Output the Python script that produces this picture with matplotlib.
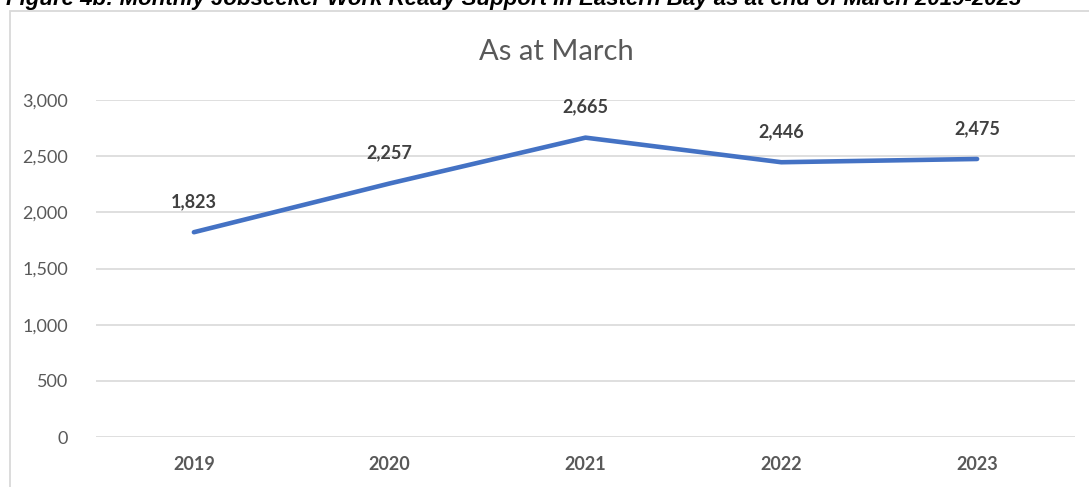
import matplotlib.pyplot as plt
from matplotlib.patches import Rectangle

years = ['2019', '2020', '2021', '2022', '2023']
values = [1823, 2257, 2665, 2446, 2475]
y_ticks = [0, 500, 1000, 1500, 2000, 2500, 3000]

W, H = 1089, 487
fig = plt.figure(figsize=(W / 100, H / 100), dpi=100)
plt.rcParams['font.family'] = ['Lato', 'DejaVu Sans']

# chart frame (extends past the bottom/right edge)
fig.patches.append(Rectangle((10 / W, -0.1), 1.2, 1 - 11 / H + 0.1, transform=fig.transFigure,
                             fill=False, edgecolor='#d9d9d9', linewidth=1.3))

# figure caption, clipped at the top
fig.text(6 / W, 1 - 5 / H, 'Figure 4b: Monthly Jobseeker Work Ready Support in Eastern Bay as at end of March 2019-2023',
         family='Liberation Sans', fontweight='bold', style='italic', fontsize=16, va='baseline', ha='left')

ax = fig.add_axes([96 / W, 1 - 437 / H, (1075 - 96) / W, (437 - 100) / H])
x = list(range(len(years)))
ax.plot(x, values, color='#4472C4', linewidth=3.3, solid_capstyle='round')
for xi, v in zip(x, values):
    ax.annotate(f'{v:,}', (xi, v), xytext=(0, 22), textcoords='offset points', ha='center', va='center',
                fontsize=13, fontweight='bold', color='#404040')

ax.set_xlim(-0.5, len(years) - 0.5)
ax.set_ylim(0, 3000)
ax.set_xticks(x)
ax.set_xticklabels(years, fontweight='bold', fontsize=13, color='#595959')
ax.set_yticks(y_ticks)
ax.set_yticklabels([f'{t:,}' for t in y_ticks], fontsize=13, color='#595959')
ax.tick_params(length=0, pad=14)
ax.tick_params(axis='y', pad=20)
ax.grid(axis='y', color='#d9d9d9', linewidth=1.2)
ax.set_axisbelow(True)
for s in ax.spines.values():
    s.set_visible(False)

fig.text(556 / W, 1 - 52 / H, 'As at March', ha='center', va='center', fontsize=21, color='#595959')

fig.savefig('out.png', dpi=100)
